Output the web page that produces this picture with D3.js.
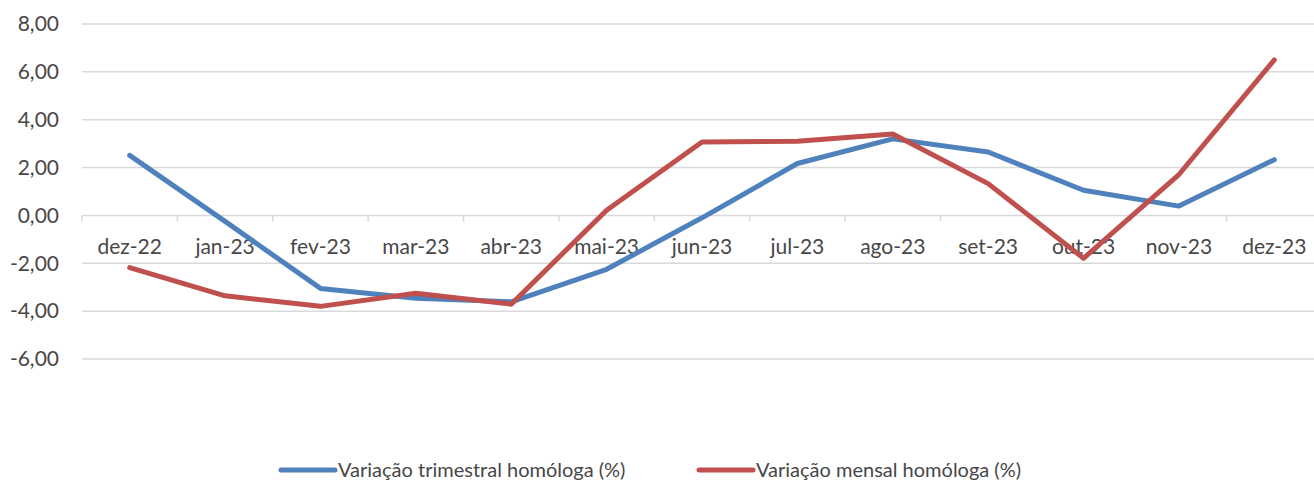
<!DOCTYPE html>
<html>
<head>
<meta charset="utf-8">
<script src="https://cdn.jsdelivr.net/npm/d3@7"></script>
<style>
  body { margin: 0; background: #fff; }
  svg text { font-family: Lato, "Open Sans", sans-serif; fill: #474747; }
</style>
</head>
<body>
<div id="chart"></div>
<script>
var months = ['dez-22','jan-23','fev-23','mar-23','abr-23','mai-23','jun-23','jul-23','ago-23','set-23','out-23','nov-23','dez-23'];
var trimestral = [2.51, -0.25, -3.05, -3.46, -3.61, -2.25, -0.1, 2.17, 3.2, 2.65, 1.05, 0.39, 2.33];
var mensal = [-2.18, -3.36, -3.8, -3.25, -3.71, 0.22, 3.07, 3.1, 3.4, 1.33, -1.79, 1.71, 6.5];
var yTicks = [-6, -4, -2, 0, 2, 4, 6, 8];
var seriesNames = ['Variação trimestral homóloga (%)', 'Variação mensal homóloga (%)'];
var colors = ['#4f81bd', '#c0504d'];

var width = 1314, height = 481;
var svg = d3.select('#chart').append('svg')
  .attr('width', width)
  .attr('height', height);

var x = d3.scaleBand().domain(months).range([82, 1322]);
var y = d3.scaleLinear().domain([-6, 8]).range([359, 24]);
var fmt = function(v) { return d3.format('.2f')(v).replace('.', ',').replace('−', '-'); };

// gridlines
svg.append('g').selectAll('line')
  .data(yTicks)
  .enter().append('line')
  .attr('x1', 82).attr('x2', width)
  .attr('y1', function(d) { return y(d); })
  .attr('y2', function(d) { return y(d); })
  .style('stroke', '#d9d9d9')
  .style('stroke-width', 1.5);

// y labels
svg.append('g').selectAll('text')
  .data(yTicks)
  .enter().append('text')
  .attr('x', 59)
  .attr('y', function(d) { return y(d); })
  .attr('dy', '0.35em')
  .attr('text-anchor', 'end')
  .style('font-size', '21px')
  .text(fmt);

// category axis at zero
var xAxis = svg.append('g')
  .attr('transform', 'translate(0,' + y(0) + ')');
xAxis.selectAll('line.tick')
  .data(months.concat(['end']))
  .enter().append('line')
  .attr('class', 'tick')
  .attr('x1', function(d, i) { return 82 + i * x.step(); })
  .attr('x2', function(d, i) { return 82 + i * x.step(); })
  .attr('y1', 0).attr('y2', 6)
  .style('stroke', '#d9d9d9')
  .style('stroke-width', 1.5);
xAxis.selectAll('text')
  .data(months)
  .enter().append('text')
  .attr('x', function(d) { return x(d) + x.bandwidth() / 2; })
  .attr('y', 31)
  .attr('dy', '0.35em')
  .attr('text-anchor', 'middle')
  .style('font-size', '21px')
  .text(function(d) { return d; });

var line = d3.line()
  .x(function(d, i) { return x(months[i]) + x.bandwidth() / 2; })
  .y(function(d) { return y(d); });

[trimestral, mensal].forEach(function(s, i) {
  svg.append('path')
    .datum(s)
    .attr('d', line)
    .style('fill', 'none')
    .style('stroke', colors[i])
    .style('stroke-width', 5)
    .style('stroke-linejoin', 'round')
    .style('stroke-linecap', 'round');
});

// legend
var legendX = [281, 699];
seriesNames.forEach(function(name, i) {
  var g = svg.append('g').attr('transform', 'translate(' + legendX[i] + ',470)');
  g.append('line')
    .attr('x1', 0).attr('x2', 54)
    .style('stroke', colors[i])
    .style('stroke-width', 5)
    .style('stroke-linecap', 'round');
  g.append('text')
    .attr('x', 57)
    .attr('dy', '0.35em')
    .style('font-size', '20px')
    .text(name);
});
</script>
</body>
</html>
